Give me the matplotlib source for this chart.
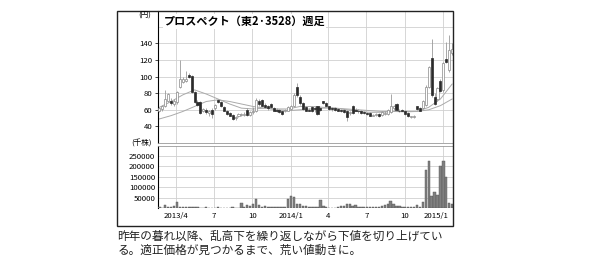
import numpy as np
import pandas as pd
import matplotlib
matplotlib.use('Agg')
import matplotlib.pyplot as plt
from matplotlib.patches import Rectangle
from matplotlib.transforms import ScaledTranslation

plt.rcParams['font.family'] = ['Noto Sans CJK JP', 'DejaVu Sans']

# --- weekly OHLC (yen) ---
opens = [59, 61, 65, 71, 70, 67, 69, 88, 94, 95, 102, 101, 81, 69, 69, 59, 60, 56, 60, 62,
         72, 69, 63, 58, 56, 54, 50, 52, 54, 54, 60, 54, 57, 59, 70, 72, 66, 64, 67, 62,
         60, 60, 58, 58, 59, 61, 65, 88, 76, 68, 63, 60, 63, 62, 64, 62, 70, 68, 64, 62,
         62, 61, 60, 60, 59, 56, 64, 60, 59, 59, 57, 56, 56, 53, 54, 55, 54, 55, 55, 57,
         62, 67, 59, 60, 59, 56, 51, 51, 64, 62, 62, 66, 88, 122, 76, 73, 95, 84, 121, 108, 128]
highs = [63, 66, 84, 80, 74, 73, 83, 120, 99, 107, 104, 102, 83, 72, 70, 62, 62, 60, 62, 67,
         73, 70, 64, 60, 57, 55, 53, 56, 56, 57, 62, 58, 63, 74, 73, 73, 68, 66, 68, 63,
         62, 61, 59, 61, 64, 66, 80, 92, 78, 69, 64, 62, 64, 65, 65, 63, 71, 69, 65, 63,
         63, 62, 61, 61, 60, 58, 66, 62, 61, 60, 58, 57, 57, 55, 56, 56, 58, 58, 61, 79,
         66, 68, 61, 61, 60, 57, 53, 54, 65, 63, 72, 90, 113, 145, 80, 88, 97, 118, 142, 150, 140]
lows = [57, 59, 63, 69, 66, 65, 67, 86, 92, 93, 98, 80, 68, 64, 55, 57, 55, 53, 50, 60,
        68, 63, 58, 54, 52, 48, 48, 51, 52, 52, 53, 52, 55, 57, 65, 64, 62, 60, 62, 58,
        57, 56, 54, 57, 58, 60, 63, 76, 66, 60, 58, 58, 57, 57, 54, 58, 67, 64, 60, 59,
        59, 58, 57, 56, 46, 54, 55, 58, 56, 55, 55, 54, 52, 52, 53, 51, 53, 54, 54, 56,
        60, 59, 57, 58, 54, 51, 50, 50, 60, 58, 61, 64, 86, 76, 66, 71, 82, 82, 116, 106, 126]
closes = [62, 65, 73, 79, 68, 71, 81, 97, 97, 97, 100, 81, 69, 66, 56, 61, 57, 59, 55, 66,
          69, 64, 59, 55, 53, 49, 51, 55, 55, 55, 54, 57, 59, 72, 67, 65, 63, 62, 63, 59,
          59, 57, 55, 60, 63, 65, 78, 78, 68, 61, 59, 59, 58, 61, 55, 60, 68, 65, 61, 61,
          60, 59, 58, 57, 51, 57, 56, 59, 58, 56, 56, 55, 53, 54, 55, 52, 57, 56, 60, 65,
          64, 60, 58, 59, 55, 52, 52, 53, 61, 59, 70, 88, 111, 78, 67, 86, 83, 116, 117, 132, 133]

# weekly volume (shares)
volume = [4000, 3000, 16000, 5000, 4000, 11000, 29000, 6000, 5000, 4000, 4000, 7000, 5000, 4000,
          3000, 3000, 4000, 3000, 3000, 3000, 4000, 3000, 3000, 3000, 3000, 4000, 3000, 3000,
          24000, 6000, 17000, 12000, 22000, 44000, 14000, 5000, 10000, 6000, 5000, 5000, 6000,
          5000, 5000, 6000, 45000, 60000, 55000, 20000, 22000, 9000, 10000, 8000, 5000, 6000,
          5000, 38000, 12000, 6000, 3000, 3000, 3000, 4000, 10000, 12000, 22000, 20000, 12000,
          14000, 5000, 4000, 4000, 4000, 4000, 5000, 8000, 8000, 9000, 15000, 22000, 36000,
          20000, 12000, 10000, 6000, 6000, 6000, 6000, 6000, 14000, 8000, 30000, 185000,
          227000, 60000, 80000, 65000, 200000, 225000, 152000, 25000, 20000]

# moving averages (sampled every 4 weeks)
ma_weeks = [0, 4, 8, 12, 16, 20, 24, 28, 32, 36, 40, 44, 48, 52, 56, 60, 64, 68, 72, 76, 80,
            84, 88, 92, 96, 100]
ma13 = [63, 70, 78, 84, 79, 73, 67, 62, 61, 62, 61, 61, 64, 64, 63, 62, 60, 58, 57, 57, 58,
        58, 58, 63, 73, 91]
ma26 = [49, 53, 58, 64, 70, 72, 70, 67, 64, 62, 60, 59, 60, 61, 62, 62, 61, 60, 59, 58, 58,
        57.5, 58, 60, 65, 73]

start_date = '2013-02-21'
tick_dates = ['2013-04-01', '2013-07-01', '2013-10-01', '2014-01-01',
              '2014-04-01', '2014-07-01', '2014-10-01', '2015-01-01']
tick_labels = ['2013/4', '7', '10', '2014/1', '4', '7', '10', '2015/1']

price_ticks = [40, 60, 80, 100, 120, 140]
vol_ticks = [50000, 100000, 150000, 200000, 250000]

title = 'プロスペクト（東2·3528）週足'
caption1 = '昨年の暮れ以降、乱高下を繰り返しながら下値を切り上げてい'
caption2 = 'る。適正価格が見つかるまで、荒い値動きに。'

grid_c = '#d0d0d0'
tick_fs = 5.6

fig = plt.figure(figsize=(6, 2.67), dpi=100)
ax = fig.add_axes([0.2633, 0.4644, 0.4917, 0.4944])
axv = fig.add_axes([0.2633, 0.2199, 0.4917, 0.2333], sharex=ax)

weeks = np.arange(len(opens))
o = np.array(opens, float)
c = np.array(closes, float)
tick_pos = [(pd.Timestamp(d) - pd.Timestamp(start_date)).days / 7 for d in tick_dates]

# price panel
ax.plot(ma_weeks, ma13, color='#aaaaaa', lw=0.7, zorder=2)
ax.plot(ma_weeks, ma26, color='#aaaaaa', lw=0.7, zorder=2)
ax.vlines(weeks, lows, highs, color='#999999', lw=0.6, zorder=3)
up = c >= o
body_h = np.maximum(np.abs(c - o), 0.8)
body_b = np.minimum(o, c)
ax.bar(weeks[up], body_h[up], bottom=body_b[up], width=0.72, color='white',
       edgecolor='#888888', linewidth=0.5, zorder=4)
ax.bar(weeks[~up], body_h[~up], bottom=body_b[~up], width=0.72, color='#2b2b2b',
       edgecolor='#2b2b2b', linewidth=0.5, zorder=4)

ax.set_ylim(20, 179)
ax.set_yticks(np.arange(20, 180, 20), minor=True)
ax.set_yticks(price_ticks)
ax.set_xlim(-0.5, 100.3)
ax.set_xticks(tick_pos)
ax.grid(True, which='both', color=grid_c, lw=0.6)
ax.set_axisbelow(True)
ax.tick_params(axis='y', which='major', labelsize=tick_fs, length=2, width=0.5, pad=2)
ax.tick_params(axis='y', which='minor', length=0)
ax.tick_params(axis='x', length=0, labelbottom=False)
for s in ['top', 'right']:
    ax.spines[s].set_visible(False)
ax.spines['left'].set_linewidth(0.8)
ax.spines['bottom'].set_color('#999999')
ax.spines['bottom'].set_linewidth(0.6)

ax.text(0.02, 0.92, title, transform=ax.transAxes, fontsize=8, fontweight='bold',
        va='center', ha='left', zorder=6,
        bbox=dict(facecolor='white', edgecolor='none', pad=0.5))
fig.text(0.2525, 0.94, '(円)', fontsize=5.5, ha='right', va='center')

# volume panel
axv.bar(weeks, volume, width=0.8, color='#808080', edgecolor='#555555', linewidth=0.3, zorder=3)
axv.set_ylim(0, 298000)
axv.set_yticks(vol_ticks)
axv.set_yticklabels([str(v) for v in vol_ticks])
axv.grid(True, color=grid_c, lw=0.6)
axv.set_axisbelow(True)
axv.tick_params(axis='y', labelsize=tick_fs, length=0, pad=2)
axv.tick_params(axis='x', labelsize=tick_fs, length=0, pad=2.5)
axv.set_xticks(tick_pos)
axv.set_xticklabels(tick_labels)
last = axv.get_xticklabels()[-1]
last.set_transform(last.get_transform() + ScaledTranslation(-5 / 72, 0, fig.dpi_scale_trans))
for s in ['right', 'bottom']:
    axv.spines[s].set_visible(False)
axv.spines['top'].set_color('#999999')
axv.spines['top'].set_linewidth(0.6)
axv.spines['left'].set_linewidth(0.8)
fig.text(0.253, 0.461, '(千株)', fontsize=5.5, ha='right', va='center')

# outer frame
fig.patches.append(Rectangle((0.195, 0.1536), 0.56, 0.805, transform=fig.transFigure,
                             fill=False, edgecolor='#222222', linewidth=1.0))

fig.text(0.196, 0.114, caption1, fontsize=8.4, ha='left', va='center', color='#222222')
fig.text(0.196, 0.064, caption2, fontsize=8.4, ha='left', va='center', color='#222222')

plt.savefig('out.png', dpi=100)
